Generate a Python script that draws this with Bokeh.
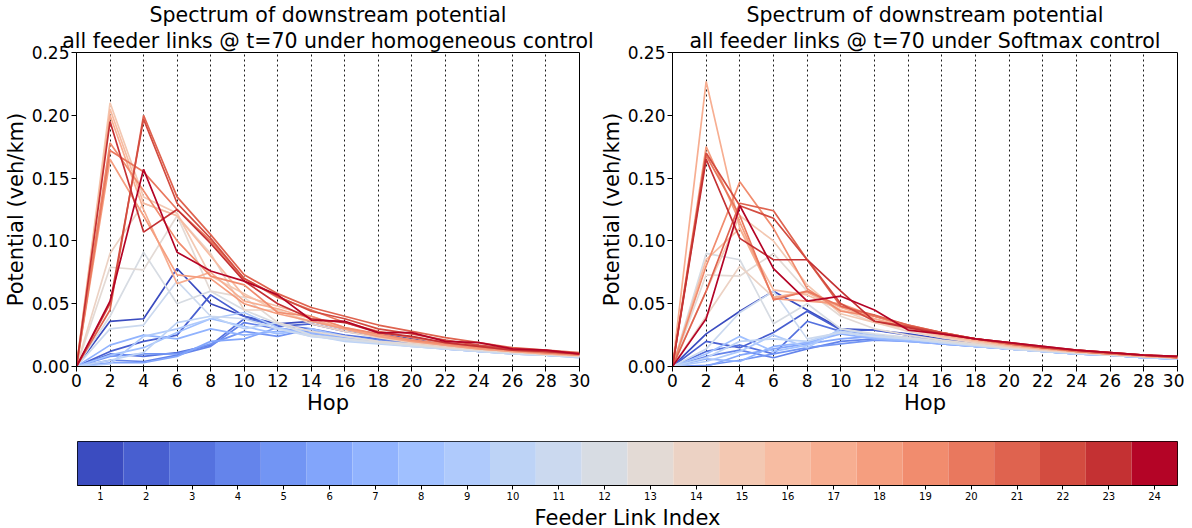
from bokeh.plotting import figure
from bokeh.layouts import column, row
from bokeh.models import FixedTicker, NumeralTickFormatter, Range1d, Title
from bokeh.embed import file_html
from bokeh.resources import INLINE

# ---------------- data ----------------
hops = [0, 2, 4, 6, 8, 10, 12, 14, 16, 18, 20, 22, 24, 26, 28, 30]
feeder_index = list(range(1, 25))

homogeneous = [
    [0, .036, .038, .078, .050, .040, .034, .036, .030, .026, .022, .017, .015, .012, .010, .008],
    [0, .012, .020, .025, .057, .040, .032, .034, .028, .024, .020, .016, .014, .012, .010, .008],
    [0, .010, .008, .011, .017, .038, .033, .030, .025, .022, .019, .016, .013, .011, .010, .008],
    [0, .005, .004, .009, .016, .035, .030, .028, .024, .021, .018, .015, .013, .011, .009, .008],
    [0, .008, .010, .010, .018, .028, .024, .030, .022, .020, .017, .015, .013, .011, .009, .008],
    [0, .003, .003, .008, .020, .022, .031, .026, .023, .020, .017, .014, .012, .011, .009, .008],
    [0, .017, .025, .022, .030, .025, .028, .027, .022, .019, .017, .014, .012, .010, .009, .008],
    [0, .009, .015, .027, .038, .032, .026, .030, .024, .020, .017, .015, .013, .011, .009, .008],
    [0, .002, .024, .030, .038, .043, .031, .024, .022, .019, .016, .014, .012, .010, .009, .007],
    [0, .005, .011, .035, .040, .030, .035, .025, .020, .018, .016, .014, .012, .010, .009, .007],
    [0, .030, .033, .068, .040, .038, .030, .024, .021, .019, .016, .014, .012, .010, .009, .008],
    [0, .040, .091, .050, .060, .045, .034, .025, .022, .019, .017, .015, .013, .011, .009, .008],
    [0, .079, .077, .120, .060, .055, .035, .028, .024, .020, .018, .015, .013, .011, .010, .008],
    [0, .090, .130, .120, .090, .045, .045, .034, .028, .023, .019, .016, .014, .012, .010, .008],
    [0, .210, .135, .122, .072, .058, .044, .036, .030, .024, .020, .017, .014, .012, .010, .009],
    [0, .205, .130, .120, .088, .056, .048, .040, .031, .025, .021, .017, .015, .012, .010, .009],
    [0, .200, .125, .066, .075, .052, .046, .038, .030, .025, .021, .017, .014, .012, .010, .009],
    [0, .165, .120, .073, .070, .050, .042, .036, .030, .024, .020, .017, .014, .012, .011, .009],
    [0, .178, .140, .100, .072, .065, .043, .040, .031, .026, .021, .018, .015, .013, .011, .009],
    [0, .172, .155, .125, .100, .070, .055, .045, .035, .028, .023, .019, .016, .013, .011, .010],
    [0, .045, .200, .135, .105, .073, .058, .047, .040, .033, .028, .023, .019, .015, .013, .011],
    [0, .050, .197, .130, .102, .070, .056, .044, .038, .030, .026, .021, .017, .014, .012, .010],
    [0, .195, .107, .125, .098, .068, .050, .038, .035, .027, .024, .019, .016, .013, .012, .010],
    [0, .052, .157, .091, .076, .068, .057, .037, .036, .027, .027, .020, .019, .014, .013, .010],
]

softmax = [
    [0, .026, .044, .060, .045, .030, .029, .026, .022, .019, .016, .014, .012, .010, .008, .007],
    [0, .020, .015, .027, .044, .029, .029, .025, .021, .018, .015, .013, .011, .009, .008, .006],
    [0, .012, .017, .010, .036, .028, .025, .023, .020, .017, .015, .013, .011, .009, .008, .006],
    [0, .008, .013, .007, .014, .020, .022, .021, .019, .016, .014, .012, .010, .009, .007, .006],
    [0, .001, .005, .010, .015, .018, .021, .020, .018, .016, .014, .012, .010, .009, .007, .006],
    [0, .000, .009, .014, .018, .022, .024, .021, .018, .016, .014, .012, .010, .009, .007, .006],
    [0, .006, .004, .016, .019, .026, .022, .020, .018, .016, .014, .012, .010, .009, .007, .006],
    [0, .010, .024, .012, .017, .028, .023, .021, .019, .016, .014, .012, .010, .009, .007, .006],
    [0, .004, .012, .025, .015, .030, .025, .022, .019, .016, .014, .012, .010, .009, .007, .006],
    [0, .007, .020, .022, .020, .028, .024, .022, .019, .017, .014, .012, .010, .009, .007, .006],
    [0, .014, .043, .060, .022, .027, .024, .022, .019, .017, .014, .012, .011, .009, .008, .006],
    [0, .090, .085, .034, .050, .030, .026, .023, .020, .017, .015, .013, .011, .009, .008, .007],
    [0, .073, .072, .090, .060, .040, .030, .025, .021, .018, .015, .013, .011, .009, .008, .007],
    [0, .040, .080, .055, .060, .045, .035, .028, .023, .019, .016, .013, .011, .010, .008, .007],
    [0, .060, .120, .100, .065, .042, .035, .030, .024, .020, .016, .014, .012, .010, .008, .007],
    [0, .085, .110, .061, .057, .045, .038, .031, .025, .021, .017, .014, .012, .010, .008, .007],
    [0, .227, .110, .055, .059, .047, .038, .031, .025, .021, .017, .014, .012, .010, .008, .007],
    [0, .175, .115, .054, .052, .050, .040, .032, .026, .022, .018, .015, .012, .010, .009, .007],
    [0, .080, .147, .110, .062, .044, .040, .032, .026, .022, .018, .015, .012, .010, .009, .007],
    [0, .168, .120, .053, .060, .048, .040, .033, .027, .022, .018, .015, .012, .010, .009, .007],
    [0, .060, .130, .124, .085, .048, .041, .033, .027, .022, .018, .015, .013, .011, .009, .007],
    [0, .170, .128, .118, .085, .050, .036, .032, .027, .022, .019, .015, .013, .011, .009, .008],
    [0, .165, .102, .085, .085, .060, .036, .031, .026, .022, .019, .016, .013, .011, .009, .008],
    [0, .038, .128, .078, .052, .056, .045, .029, .026, .022, .019, .016, .013, .011, .009, .008],
]

hop_ticks = list(range(0, 31, 2))
y_ticks = [0.0, 0.05, 0.10, 0.15, 0.20, 0.25]

title_top = "Spectrum of downstream potential"
title_left = "all feeder links @ t=70 under homogeneous control"
title_right = "all feeder links @ t=70 under Softmax control"

# ---------------- colour map (coolwarm anchors) ----------------
_cw = [(59,76,192),(68,90,204),(77,104,215),(87,117,225),(98,130,234),(108,142,241),
       (119,154,247),(130,165,251),(141,176,254),(152,185,255),(163,194,255),(174,201,253),
       (184,208,249),(194,213,244),(204,217,238),(213,219,230),(221,221,221),(229,216,209),
       (236,211,197),(241,204,184),(245,196,172),(247,187,160),(247,177,148),(247,166,135),
       (244,154,123),(241,141,111),(236,127,99),(229,112,88),(222,96,77),(213,80,66),
       (203,62,56),(192,40,47),(180,4,38)]

def coolwarm(t):
    pos = t * (len(_cw) - 1)
    i = min(int(pos), len(_cw) - 2)
    f = pos - i
    c = [round(_cw[i][k] + (_cw[i + 1][k] - _cw[i][k]) * f) for k in range(3)]
    return "#%02x%02x%02x" % tuple(c)

n = len(feeder_index)
colors = [coolwarm(i / (n - 1)) for i in range(n)]

FONT = "DejaVu Sans"

def style_title(t):
    t.align = "center"
    t.text_font = FONT
    t.text_font_size = "20.5px"
    t.text_font_style = "normal"
    t.text_color = "black"
    t.standoff = 0
    t.offset = 0

def make_panel(series, line1, line2, left_border, right_border, frame_w):
    p = figure(frame_width=frame_w, frame_height=314,
               x_range=Range1d(0, 30), y_range=Range1d(0, 0.25),
               output_backend="svg", toolbar_location=None,
               min_border_left=left_border, min_border_right=right_border,
               min_border_top=45, min_border_bottom=50)
    p.title.text = line1
    style_title(p.title)
    t2 = Title(text=line2)
    style_title(t2)
    p.add_layout(t2, "above")
    for k, ys in enumerate(series):
        p.line(hops, ys, line_color=colors[k], line_width=1.7)
    p.xaxis.ticker = FixedTicker(ticks=hop_ticks)
    p.yaxis.ticker = FixedTicker(ticks=y_ticks)
    p.yaxis.formatter = NumeralTickFormatter(format="0.00")
    p.xaxis.axis_label = "Hop"
    p.yaxis.axis_label = "Potential (veh/km)"
    for ax in (p.xaxis, p.yaxis):
        ax.axis_label_text_font = FONT
        ax.axis_label_text_font_size = "21px"
        ax.axis_label_text_font_style = "normal"
        ax.axis_label_text_color = "black"
        ax.major_label_text_font = FONT
        ax.major_label_text_font_size = "17px"
        ax.major_label_text_color = "black"
        ax.axis_line_color = "black"
        ax.major_tick_line_color = "black"
        ax.major_tick_out = 5
        ax.major_tick_in = 0
        ax.minor_tick_line_color = None
        ax.major_label_standoff = 2
        ax.axis_label_standoff = 1
    p.xgrid.grid_line_color = "black"
    p.xgrid.grid_line_dash = "2 3"
    p.xgrid.grid_line_width = 1
    p.xgrid.grid_line_alpha = 0.9
    p.ygrid.grid_line_color = None
    p.outline_line_color = "black"
    p.outline_line_width = 1
    p.outline_line_alpha = 1
    p.background_fill_color = "white"
    p.border_fill_color = "white"
    return p

p1 = make_panel(homogeneous, title_top, title_left, 69, 17, 503)
p2 = make_panel(softmax, title_top, title_right, 65, 7, 505)

# ---------------- colour bar ----------------
cb = figure(frame_width=1100, frame_height=44,
            x_range=Range1d(0.5, 24.5), y_range=Range1d(0, 1),
            output_backend="svg", toolbar_location=None,
            min_border_left=77, min_border_right=7, min_border_top=24, min_border_bottom=40)
cb.quad(left=[i - 0.5 for i in feeder_index], right=[i + 0.5 for i in feeder_index],
        bottom=0, top=1, fill_color=colors, line_color=None)
cb.yaxis.visible = False
cb.xgrid.grid_line_color = None
cb.ygrid.grid_line_color = None
cb.xaxis.ticker = FixedTicker(ticks=feeder_index)
cb.xaxis.axis_label = "Feeder Link Index"
cb.xaxis.axis_label_text_font = FONT
cb.xaxis.axis_label_text_font_size = "21px"
cb.xaxis.axis_label_text_font_style = "normal"
cb.xaxis.axis_label_text_color = "black"
cb.xaxis.major_label_text_font = FONT
cb.xaxis.major_label_text_font_size = "10px"
cb.xaxis.major_label_text_color = "black"
cb.xaxis.axis_line_color = "black"
cb.xaxis.major_tick_line_color = "black"
cb.xaxis.major_tick_out = 4
cb.xaxis.major_tick_in = 0
cb.xaxis.minor_tick_line_color = None
cb.xaxis.major_label_standoff = 2
cb.xaxis.axis_label_standoff = 3
cb.outline_line_color = "black"
cb.outline_line_alpha = 1

layout = column(row(p1, p2), cb)
open("out.html", "w").write(file_html(layout, INLINE))
